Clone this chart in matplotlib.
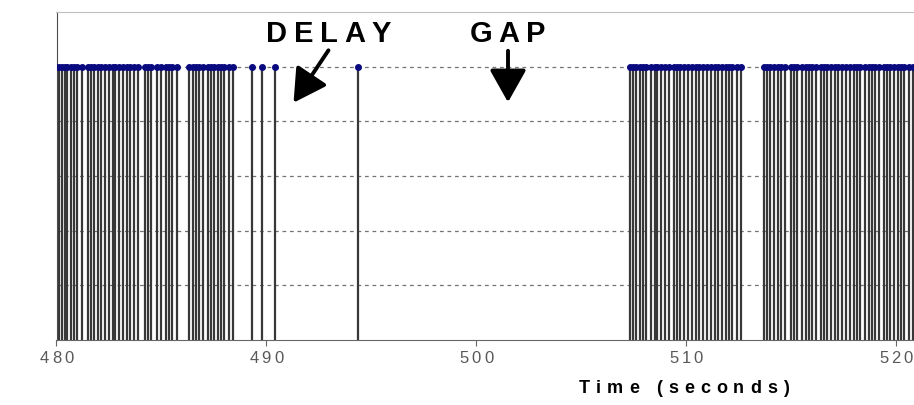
import numpy as np
import matplotlib.pyplot as plt
from matplotlib.patches import FancyArrowPatch
from matplotlib.transforms import IdentityTransform

# pulse arrival times (s), grouped by burst
burst_a = [480.0, 480.1, 480.25, 480.4, 480.5, 480.7, 480.85, 481.0, 481.2, 481.5,
           481.65, 481.8, 482.0, 482.1, 482.3, 482.5, 482.7, 482.8, 483.0, 483.15,
           483.35, 483.5, 483.7, 483.9, 484.2, 484.35, 484.5, 484.8, 485.0, 485.2,
           485.35, 485.5, 485.75, 486.3, 486.5, 486.65, 486.8, 487.0, 487.2, 487.35,
           487.5, 487.7, 487.85, 488.0, 488.2, 488.4]
stragglers = [489.3, 489.8, 490.4, 494.35]
burst_b = [507.3, 507.45, 507.6, 507.8, 507.95, 508.1, 508.3, 508.5, 508.6, 508.8,
           509.0, 509.2, 509.4, 509.55, 509.7, 509.9, 510.1, 510.3, 510.45, 510.6,
           510.8, 511.0, 511.2, 511.35, 511.5, 511.7, 511.9, 512.05, 512.2, 512.4,
           512.6]
burst_c = [513.7, 513.85, 514.0, 514.2, 514.35, 514.5, 514.7, 515.0, 515.15, 515.3,
           515.5, 515.7, 515.85, 516.0, 516.2, 516.4, 516.55, 516.7, 516.9, 517.1,
           517.25, 517.4, 517.6, 517.8, 518.0, 518.15, 518.3, 518.5, 518.7, 518.85,
           519.0, 519.2, 519.4, 519.55, 519.7, 519.9, 520.1, 520.25, 520.4, 520.6,
           520.8]
pulse_height = 5
x_ticks = [480, 490, 500, 510, 520]


def spaced_text(fig, x, y, s, gap, ha='left', **kw):
    """Draw s letter by letter in pixel coords with extra tracking."""
    r = fig.canvas.get_renderer()
    parts, widths = [], []
    for ch in s:
        t = fig.text(0, y, ch, transform=IdentityTransform(), va='baseline', **kw)
        if ch.strip():
            w = t.get_window_extent(r).width
        else:
            w = kw.get('fontsize', 10) * 0.28 * fig.dpi / 72
        parts.append(t)
        widths.append(w)
    total = sum(widths) + gap * (len(s) - 1)
    x0 = x - total / 2 if ha == 'center' else x
    for t, w in zip(parts, widths):
        t.set_x(x0)
        x0 += w + gap


times = np.array(burst_a + stragglers + burst_b + burst_c)
heights = np.full(len(times), pulse_height)

fig = plt.figure(figsize=(9.14, 4.05), dpi=100)
ax = fig.add_axes([56.5 / 914, 65 / 405, (914 - 56.5) / 914, 328 / 405])

ax.vlines(times, 0, heights, color='0.22', lw=1.6, zorder=2)
ax.plot(times, heights, 'o', color='#0a0a80', ms=4, mec='#0a0a80', zorder=3)

ax.set_xlim(480, 480 + (914 - 56.5) / 20.99)
ax.set_ylim(0, 6)
ax.set_yticks([])
for yv in range(1, 6):
    ax.axhline(yv, color='0.45', lw=0.9, ls=(0, (3, 3)), zorder=1)

ax.set_xticks(x_ticks)
ax.set_xticklabels([])
ax.tick_params(axis='x', direction='out', length=4, color='0.4')

ax.spines['right'].set_visible(False)
ax.spines['top'].set_color('0.75')
ax.spines['left'].set_color('0.3')
ax.spines['bottom'].set_color('0.4')

# tick labels and axis title with wide letter spacing
for xt in x_ticks:
    px, _ = ax.transData.transform((xt, 0))
    spaced_text(fig, px, 42, str(xt), 3, ha='center', fontsize=12,
                family='Liberation Sans', color='0.35')
spaced_text(fig, 684, 12, 'Time (seconds)', 6, ha='center', fontsize=13,
            family='Liberation Sans', weight='bold', color='black')

# annotations
spaced_text(fig, 266, 363, 'DELAY', 6.5, fontsize=21,
            family='Liberation Sans', weight='bold', color='black')
spaced_text(fig, 470, 363, 'GAP', 6, fontsize=21,
            family='Liberation Sans', weight='bold', color='black')
for start, end in [((330, 357), (292, 300)), ((508, 357), (508, 300))]:
    fig.add_artist(FancyArrowPatch(start, end, transform=IdentityTransform(),
                                   arrowstyle='-|>,head_length=0.8,head_width=0.45',
                                   mutation_scale=25, lw=2.8, color='black'))

fig.savefig('out.png', dpi=100)
